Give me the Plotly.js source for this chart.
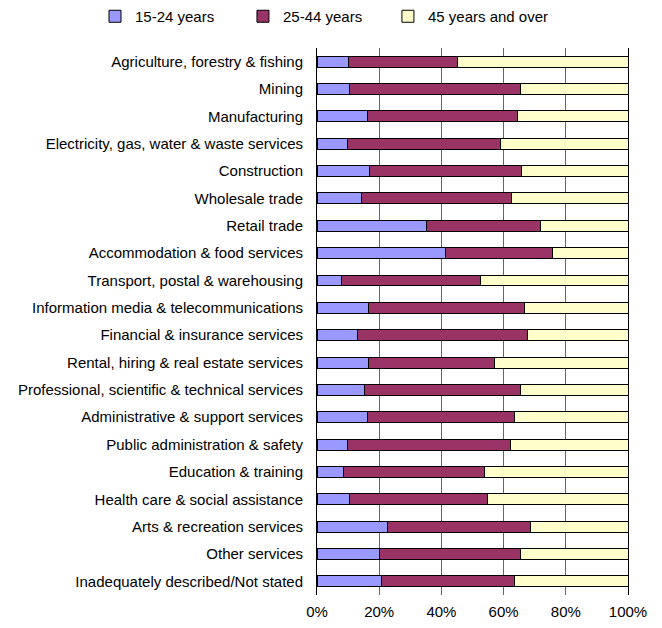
<!DOCTYPE html>
<html>
<head>
<meta charset="utf-8">
<script src="https://cdn.plot.ly/plotly-3.0.1.min.js"></script>
<style>html,body{margin:0;padding:0;background:#fff;}#chart{width:662px;height:628px;}</style>
</head>
<body>
<div id="chart"></div>
<script>
const industries = [
  "Agriculture, forestry & fishing",
  "Mining",
  "Manufacturing",
  "Electricity, gas, water & waste services",
  "Construction",
  "Wholesale trade",
  "Retail trade",
  "Accommodation & food services",
  "Transport, postal & warehousing",
  "Information media & telecommunications",
  "Financial & insurance services",
  "Rental, hiring & real estate services",
  "Professional, scientific & technical services",
  "Administrative & support services",
  "Public administration & safety",
  "Education & training",
  "Health care & social assistance",
  "Arts & recreation services",
  "Other services",
  "Inadequately described/Not stated"
];
const age15to24 = [10.2, 10.5, 16.2, 9.8, 16.9, 14.3, 35.2, 41.3, 7.9, 16.5, 12.9, 16.5, 15.2, 16.2, 9.9, 8.4, 10.5, 22.7, 20.0, 20.7];
const age25to44 = [35.1, 54.8, 48.2, 49.1, 48.8, 48.2, 36.7, 34.4, 44.7, 50.1, 54.7, 40.6, 50.2, 47.3, 52.2, 45.6, 44.3, 46.1, 45.3, 42.8];
const age45plus = [54.7, 34.7, 35.6, 41.1, 34.3, 37.5, 28.1, 24.3, 47.4, 33.4, 32.4, 42.9, 34.6, 36.5, 37.9, 46.0, 45.2, 31.2, 34.7, 36.5];
const seriesNames = ["15-24 years", "25-44 years", "45 years and over"];
const seriesColors = ["#9999FF", "#993366", "#FFFFCC"];
const seriesValues = [age15to24, age25to44, age45plus];
const legendIds = ["legend", "legend2", "legend3"];
const legendX = [0.1435, 0.367, 0.586];

const traces = seriesValues.map((vals, i) => ({
  type: "bar",
  orientation: "h",
  name: seriesNames[i],
  legend: legendIds[i],
  x: vals,
  y: industries,
  width: 0.4,
  marker: {color: seriesColors[i], line: {color: "#000000", width: 1}},
  hoverinfo: "x+y+name"
}));

const layout = {
  width: 662,
  height: 628,
  barmode: "stack",
  paper_bgcolor: "#ffffff",
  plot_bgcolor: "#ffffff",
  font: {family: "Liberation Sans, Arial, sans-serif", size: 15, color: "#000000"},
  margin: {l: 317, r: 34, t: 48, b: 33, pad: 0},
  showlegend: true,
  xaxis: {
    range: [0, 100],
    tickvals: [0, 20, 40, 60, 80, 100],
    ticktext: ["0%", "20%", "40%", "60%", "80%", "100%"],
    showgrid: true,
    gridcolor: "#666666",
    gridwidth: 1,
    zeroline: false,
    showline: false,
    ticks: "",
    ticklen: 0,
    ticklabelstandoff: 6,
    fixedrange: true
  },
  yaxis: {
    autorange: "reversed",
    showline: true,
    mirror: true,
    linecolor: "#000000",
    linewidth: 1,
    showgrid: false,
    ticks: "",
    ticklabelstandoff: 10,
    fixedrange: true
  }
};
legendIds.forEach((id, i) => {
  layout[id] = {
    orientation: "h",
    xref: "container", x: legendX[i], xanchor: "left",
    yref: "container", y: 1, yanchor: "top",
    bgcolor: "rgba(0,0,0,0)",
    font: {size: 15},
    itemwidth: 30
  };
});

Plotly.newPlot("chart", traces, layout, {displayModeBar: false, staticPlot: true});
</script>
</body>
</html>
